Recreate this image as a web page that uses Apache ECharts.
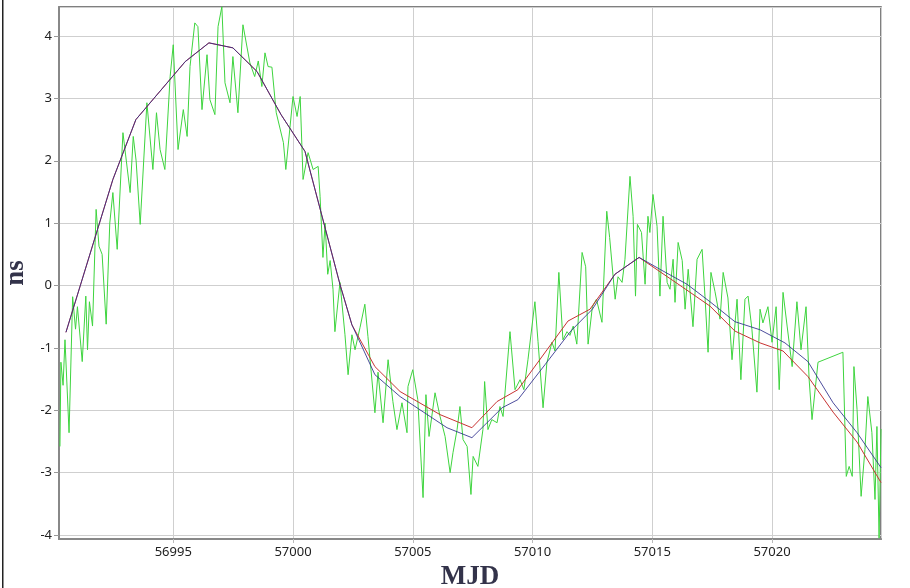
<!DOCTYPE html>
<html>
<head>
<meta charset="utf-8">
<script src="https://cdn.jsdelivr.net/npm/echarts@6/dist/echarts.min.js"></script>
<style>
html,body{margin:0;padding:0;background:#fff;}
#chart{width:910px;height:588px;}
</style>
</head>
<body>
<div id="chart"></div>
<script>
// ---- Data (MJD, ns) ----
const xRange = [56990.23, 57024.55];
const yRange = [-4.064, 4.465];
const xAxisName = 'MJD';
const yAxisName = 'ns';

const greenPoints = [
[56990.27,-2.58],[56990.31,-1.23],[56990.40,-1.60],[56990.48,-0.87],[56990.65,-2.36],[56990.80,-0.18],
[56990.92,-0.70],[56991.00,-0.34],[56991.20,-1.22],[56991.35,-0.17],[56991.42,-1.03],[56991.50,-0.26],
[56991.63,-0.65],[56991.78,1.22],[56991.90,0.63],[56992.03,0.50],[56992.20,-0.62],[56992.35,1.00],
[56992.48,1.49],[56992.66,0.58],[56992.90,2.45],[56993.20,1.49],[56993.33,2.39],[56993.45,2.00],
[56993.62,0.98],[56993.90,2.93],[56994.15,1.86],[56994.30,2.77],[56994.45,2.18],[56994.65,1.86],
[56994.87,3.35],[56995.00,3.86],[56995.20,2.18],[56995.42,2.82],[56995.58,2.39],[56995.70,3.51],
[56995.90,4.21],[56996.03,4.15],[56996.20,2.82],[56996.41,3.70],[56996.53,2.98],[56996.74,2.74],
[56996.87,4.15],[56997.03,4.47],[56997.16,3.25],[56997.37,2.93],[56997.49,3.67],[56997.70,2.77],
[56997.91,4.18],[56998.20,3.57],[56998.40,3.35],[56998.55,3.60],[56998.70,3.19],[56998.83,3.73],
[56998.96,3.51],[56999.12,3.50],[56999.30,2.77],[56999.60,2.29],[56999.70,1.86],[57000.00,3.03],
[57000.17,2.71],[57000.30,3.03],[57000.42,1.70],[57000.63,2.13],[57000.84,1.86],[57001.05,1.91],
[57001.13,1.43],[57001.25,0.45],[57001.34,1.00],[57001.45,0.18],[57001.55,0.40],[57001.67,-0.06],
[57001.75,-0.74],[57001.96,0.05],[57002.17,-0.79],[57002.30,-1.43],[57002.46,-0.79],[57002.59,-1.03],
[57002.80,-0.67],[57003.00,-0.30],[57003.13,-0.82],[57003.42,-2.04],[57003.55,-1.39],[57003.76,-2.20],
[57003.97,-1.19],[57004.17,-1.86],[57004.34,-2.31],[57004.55,-1.88],[57004.76,-2.36],[57004.80,-1.62],
[57005.00,-1.35],[57005.21,-1.83],[57005.43,-3.40],[57005.55,-1.75],[57005.68,-2.42],[57005.93,-1.72],
[57006.14,-2.10],[57006.35,-2.42],[57006.56,-3.00],[57006.68,-2.68],[57006.85,-2.31],[57006.97,-1.94],
[57007.10,-2.47],[57007.27,-2.58],[57007.43,-3.35],[57007.52,-2.74],[57007.72,-2.90],[57007.93,-2.31],
[57008.00,-1.54],[57008.14,-2.31],[57008.30,-2.15],[57008.52,-2.20],[57008.64,-1.94],[57008.77,-2.10],
[57009.06,-0.74],[57009.27,-1.67],[57009.48,-1.51],[57009.64,-1.67],[57009.81,-1.19],[57010.10,-0.26],
[57010.23,-0.90],[57010.44,-1.96],[57010.60,-1.24],[57010.81,-0.91],[57010.94,-1.05],[57011.10,0.21],
[57011.27,-0.87],[57011.44,-0.74],[57011.56,-0.80],[57011.70,-0.65],[57011.85,-0.94],[57012.07,0.53],
[57012.22,0.30],[57012.32,-0.94],[57012.50,-0.34],[57012.67,-0.22],[57012.90,-0.59],[57013.10,1.19],
[57013.22,0.77],[57013.45,-0.22],[57013.57,0.14],[57013.74,0.05],[57013.86,0.42],[57014.07,1.75],
[57014.20,1.11],[57014.30,-0.17],[57014.38,0.98],[57014.55,0.85],[57014.70,0.02],[57014.82,1.11],
[57014.90,0.85],[57015.03,1.46],[57015.20,0.95],[57015.32,-0.17],[57015.45,1.11],[57015.62,0.05],
[57015.74,-0.06],[57015.87,0.42],[57015.95,-0.27],[57016.08,0.69],[57016.25,0.40],[57016.37,-0.38],
[57016.50,0.26],[57016.70,-0.66],[57016.87,0.42],[57017.08,0.58],[57017.20,-0.17],[57017.33,-1.07],
[57017.45,0.21],[57017.62,-0.10],[57017.83,-0.54],[57017.96,0.21],[57018.16,-0.20],[57018.33,-1.19],
[57018.54,-0.22],[57018.70,-1.51],[57018.87,-0.22],[57019.00,-0.17],[57019.16,-0.70],[57019.37,-1.71],
[57019.50,-0.38],[57019.62,-0.60],[57019.83,-0.34],[57020.00,-0.91],[57020.17,-0.34],[57020.30,-1.67],
[57020.46,-0.11],[57020.63,-0.65],[57020.84,-1.30],[57021.04,-0.26],[57021.21,-1.03],[57021.42,-0.34],
[57021.55,-1.51],[57021.67,-2.15],[57021.80,-1.67],[57021.92,-1.23],[57022.96,-1.07],[57023.10,-3.06],
[57023.22,-2.90],[57023.35,-3.06],[57023.42,-1.30],[57023.55,-1.99],[57023.72,-3.38],[57023.88,-2.63],
[57024.00,-1.78],[57024.17,-2.36],[57024.30,-3.43],[57024.38,-2.26],[57024.47,-4.05],[57024.55,-2.30]
];

const redPoints = [
[56990.52,-0.75],[56992.48,1.70],[56993.44,2.66],[56995.50,3.59],[56996.49,3.89],[56997.49,3.81],
[56998.50,3.43],[56999.50,2.74],[57000.50,2.15],[57001.96,0.02],[57002.46,-0.63],[57003.42,-1.30],
[57004.47,-1.70],[57006.14,-2.07],[57007.47,-2.28],[57008.52,-1.86],[57009.39,-1.67],[57011.48,-0.57],
[57012.40,-0.38],[57013.44,0.18],[57014.45,0.45],[57016.28,-0.03],[57017.41,-0.33],[57018.45,-0.73],
[57019.50,-0.92],[57020.46,-1.05],[57021.50,-1.46],[57022.55,-2.03],[57023.55,-2.51],[57024.55,-3.16]
];

const bluePoints = [
[56990.52,-0.75],[56992.48,1.70],[56993.44,2.66],[56995.50,3.59],[56996.49,3.89],[56997.49,3.81],
[56998.50,3.43],[56999.50,2.74],[57000.50,2.15],[57001.96,0.02],[57002.46,-0.63],[57003.42,-1.43],
[57004.47,-1.78],[57006.43,-2.28],[57007.47,-2.44],[57008.73,-1.96],[57009.39,-1.83],[57010.52,-1.27],
[57011.60,-0.73],[57012.50,-0.38],[57013.44,0.18],[57014.45,0.45],[57015.32,0.26],[57016.45,0.02],
[57017.41,-0.26],[57018.45,-0.58],[57019.50,-0.71],[57020.54,-0.92],[57021.50,-1.22],[57022.55,-1.88],
[57023.55,-2.36],[57024.55,-2.92]
];

const chart = echarts.init(document.getElementById('chart'), null, {renderer:'canvas'});
const labelFont = {color:'#222', fontSize:13, fontFamily:'"Noto Sans", "DejaVu Sans", sans-serif'};
const nameFont = {color:'#33334a', fontSize:27, fontWeight:'bold', fontFamily:'"Liberation Serif", "DejaVu Serif", serif'};

chart.setOption({
  animation:false,
  backgroundColor:'#fff',
  grid:{left:59, right:29, top:7, bottom:49, show:true, borderColor:'#555', borderWidth:1.5,
        containLabel:false, outerBoundsMode:'none'},
  xAxis:{
    type:'value', min:xRange[0], max:xRange[1], minInterval:5, maxInterval:5,
    name:xAxisName, nameLocation:'middle', nameGap:25, nameTextStyle:nameFont,
    axisLine:{show:true, onZero:false, lineStyle:{color:'#888', width:2}},
    axisTick:{show:true, length:4, lineStyle:{color:'#bbb'}},
    axisLabel:Object.assign({margin:7, showMinLabel:false, showMaxLabel:false,
      formatter:function(v){return String(Math.round(v));}}, labelFont),
    splitLine:{show:true, lineStyle:{color:'#cfcfcf', width:1}}
  },
  yAxis:{
    type:'value', min:yRange[0], max:yRange[1], minInterval:1, maxInterval:1,
    name:yAxisName, nameLocation:'middle', nameGap:19, nameRotate:90, nameTextStyle:nameFont,
    axisLine:{show:true, onZero:false, lineStyle:{color:'#888', width:2}},
    axisTick:{show:true, length:5, lineStyle:{color:'#999'}},
    axisLabel:Object.assign({margin:7, showMinLabel:false, showMaxLabel:false,
      formatter:function(v){return String(Math.round(v));}}, labelFont),
    splitLine:{show:true, lineStyle:{color:'#cfcfcf', width:1}}
  },
  series:[
    {type:'line', data:greenPoints, showSymbol:false, symbol:'none', z:2,
     lineStyle:{color:'#3ed43e', width:1}},
    {type:'line', data:redPoints, showSymbol:false, symbol:'none', z:3,
     lineStyle:{color:'#c83232', width:1}},
    {type:'line', data:bluePoints, showSymbol:false, symbol:'none', z:4,
     lineStyle:{color:'#2e2e8c', width:1, opacity:0.85}}
  ],
  graphic:[
    {type:'rect', left:2, top:0, shape:{width:1.5, height:588}, style:{fill:'#222'}, silent:true}
  ]
});
</script>
</body>
</html>
